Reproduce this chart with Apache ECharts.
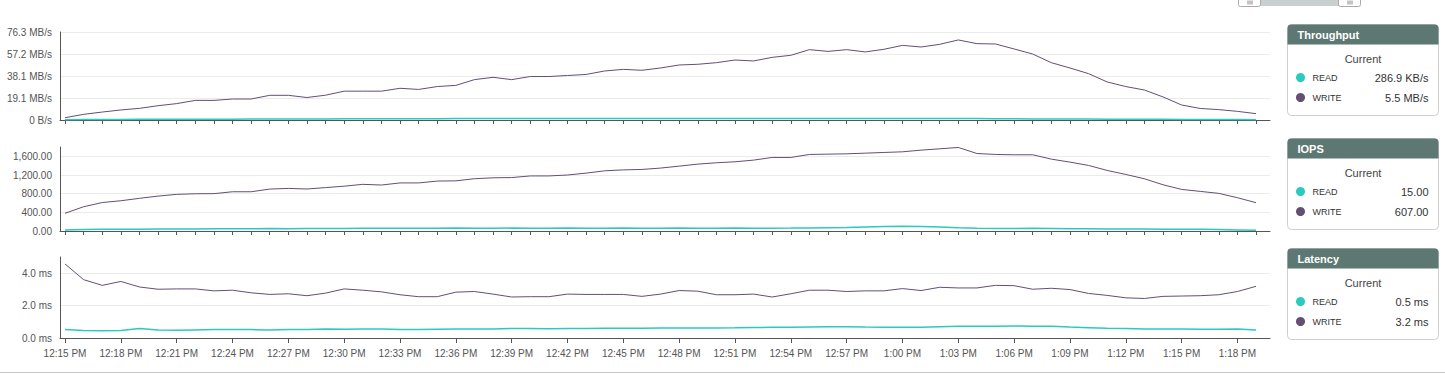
<!DOCTYPE html>
<html>
<head>
<meta charset="utf-8">
<script src="https://cdn.jsdelivr.net/npm/echarts@6/dist/echarts.min.js"></script>
<style>
html,body{margin:0;padding:0;background:#fff;}
#chart{width:1445px;height:374px;}
</style>
</head>
<body>
<div id="chart"></div>
<script>
// ---- categories (one sample per minute) ----
const times = [
  '12:15 PM','12:16 PM','12:17 PM','12:18 PM','12:19 PM','12:20 PM','12:21 PM','12:22 PM','12:23 PM','12:24 PM',
  '12:25 PM','12:26 PM','12:27 PM','12:28 PM','12:29 PM','12:30 PM','12:31 PM','12:32 PM','12:33 PM','12:34 PM',
  '12:35 PM','12:36 PM','12:37 PM','12:38 PM','12:39 PM','12:40 PM','12:41 PM','12:42 PM','12:43 PM','12:44 PM',
  '12:45 PM','12:46 PM','12:47 PM','12:48 PM','12:49 PM','12:50 PM','12:51 PM','12:52 PM','12:53 PM','12:54 PM',
  '12:55 PM','12:56 PM','12:57 PM','12:58 PM','12:59 PM','1:00 PM','1:01 PM','1:02 PM','1:03 PM','1:04 PM',
  '1:05 PM','1:06 PM','1:07 PM','1:08 PM','1:09 PM','1:10 PM','1:11 PM','1:12 PM','1:13 PM','1:14 PM',
  '1:15 PM','1:16 PM','1:17 PM','1:18 PM','1:19 PM'
];

// ---- Throughput (MB/s) ----
const throughputRead = [
  0.3,0.4,0.5,0.5,0.6,0.6,0.6,0.7,0.7,0.7,
  0.8,0.8,0.8,0.9,0.9,1.0,1.0,1.0,1.1,1.1,
  1.1,1.2,1.2,1.2,1.3,1.3,1.3,1.3,1.3,1.3,
  1.3,1.3,1.3,1.3,1.3,1.3,1.3,1.3,1.3,1.3,
  1.3,1.3,1.3,1.3,1.3,1.3,1.3,1.3,1.3,1.2,
  1.1,1.0,0.9,0.9,0.8,0.8,0.7,0.7,0.6,0.6,
  0.5,0.5,0.4,0.4,0.2869
];
const throughputWrite = [
  2.0,4.9,6.9,8.7,10.1,12.4,14.2,17.0,17.0,18.2,
  18.2,21.4,21.4,19.5,21.5,25.0,25.0,25.0,27.5,26.5,
  29.0,30.0,35.0,37.0,35.0,37.7,37.7,38.6,39.5,42.5,
  43.9,43.1,45.1,47.7,48.3,49.7,52.0,51.2,54.3,56.1,
  61.0,59.5,61.0,59.0,61.3,64.7,63.3,65.6,69.4,66.2,
  65.9,61.6,57.2,49.7,45.1,40.2,33.0,29.0,26.0,20.0,
  13.0,10.0,9.0,7.5,5.5
];
// ---- IOPS ----
const iopsRead = [
  20,30,35,38,40,42,45,45,48,50,
  50,52,50,55,55,55,58,60,60,58,
  60,62,60,60,62,60,60,62,60,60,
  62,60,60,62,60,60,62,60,60,62,
  65,70,75,85,95,100,98,85,70,60,
  55,55,58,55,50,48,45,45,42,40,
  38,35,30,22,15
];
const iopsWrite = [
  380,520,610,648,700,748,785,798,800,841,
  841,898,913,900,930,960,1000,985,1030,1030,
  1070,1075,1120,1140,1145,1180,1180,1200,1240,1290,
  1310,1319,1348,1390,1433,1462,1483,1519,1576,1576,
  1640,1647,1654,1668,1683,1697,1733,1761,1790,1661,
  1640,1633,1633,1540,1476,1405,1298,1212,1119,991,
  891,849,806,713,607
];
// ---- Latency (ms) ----
const latencyRead = [
  0.53,0.46,0.44,0.47,0.58,0.49,0.48,0.50,0.52,0.53,
  0.52,0.50,0.52,0.53,0.55,0.54,0.56,0.55,0.53,0.53,
  0.54,0.55,0.55,0.56,0.59,0.58,0.57,0.59,0.59,0.60,
  0.60,0.60,0.61,0.62,0.62,0.62,0.63,0.65,0.66,0.66,
  0.68,0.70,0.70,0.68,0.67,0.67,0.67,0.70,0.72,0.73,
  0.73,0.74,0.73,0.73,0.68,0.64,0.60,0.58,0.56,0.55,
  0.55,0.54,0.54,0.55,0.50
];
const latencyWrite = [
  4.57,3.60,3.25,3.49,3.15,3.01,3.03,3.03,2.91,2.95,
  2.79,2.69,2.73,2.61,2.77,3.03,2.95,2.85,2.67,2.55,
  2.55,2.83,2.87,2.71,2.53,2.55,2.55,2.71,2.69,2.69,
  2.69,2.57,2.71,2.93,2.89,2.67,2.67,2.71,2.53,2.73,
  2.95,2.95,2.87,2.91,2.91,3.05,2.93,3.13,3.09,3.09,
  3.25,3.23,3.01,3.07,2.99,2.75,2.63,2.48,2.44,2.57,
  2.59,2.61,2.67,2.87,3.19
];

// ---- tick labels ----
const throughputTicks = ['0 B/s','19.1 MB/s','38.1 MB/s','57.2 MB/s','76.3 MB/s'];
const iopsTicks = ['0.00','400.00','800.00','1,200.00','1,600.00'];
const latencyTicks = ['0.0 ms','2.0 ms','4.0 ms'];
const panelTitles = ['Throughput','IOPS','Latency'];
const seriesNames = ['READ','WRITE'];

const READ_COLOR = '#2cc9be';
const WRITE_COLOR = '#634f72';
const FONT = 'Liberation Sans, Arial, sans-serif';

const minuteIdx = times.map((t, i) => i);
const labelIdx = minuteIdx.filter(i => i % 3 === 0);
const pairs = arr => arr.map((v, i) => [i, v]);

function xAxisCfg(gridIndex, withLabels) {
  return {
    type: 'value', gridIndex, min: -0.27, max: 64.75,
    axisLine: { show: true, onZero: false, lineStyle: { color: '#555', width: 1 } },
    axisTick: { show: true, length: withLabels ? 5 : 4, lineStyle: { color: '#555' },
      customValues: withLabels ? labelIdx : minuteIdx },
    axisLabel: { show: withLabels, customValues: labelIdx, color: '#555', fontSize: 10,
      fontFamily: FONT, margin: 10, formatter: v => times[Math.round(v)] || '' },
    splitLine: { show: false }
  };
}
function yAxisCfg(gridIndex, max, interval, ticks, hideMax) {
  return {
    type: 'value', gridIndex, min: 0, max, interval,
    axisLine: { show: true, onZero: false, lineStyle: { color: '#555', width: 1 } },
    axisTick: { show: false },
    axisLabel: { color: '#555', fontSize: 10, fontFamily: FONT, margin: 8,
      showMaxLabel: !hideMax,
      formatter: v => { const i = Math.round(v / interval); return Math.abs(v - i * interval) < 1e-6 ? (ticks[i] || '') : ''; } },
    splitLine: { show: true, showMaxLine: !hideMax, lineStyle: { color: '#ebebeb', width: 1 } }
  };
}
function line(name, data, color, idx, width) {
  return {
    name, type: 'line', xAxisIndex: idx, yAxisIndex: idx, data: pairs(data),
    showSymbol: false, symbol: 'none', smooth: false,
    lineStyle: { color, width }, itemStyle: { color }, z: name === 'READ' ? 3 : 2,
    silent: true
  };
}

const fmtThroughput = v => v < 1 ? (v * 1000).toFixed(1) + ' KB/s' : v.toFixed(1) + ' MB/s';
const fmtIops = v => v.toLocaleString('en-US', { minimumFractionDigits: 2, maximumFractionDigits: 2 });
const fmtLatency = v => v.toFixed(1) + ' ms';

const panelTops = [24, 138, 248];
const panelValues = [
  [fmtThroughput(throughputRead[throughputRead.length - 1]), fmtThroughput(throughputWrite[throughputWrite.length - 1])],
  [fmtIops(iopsRead[iopsRead.length - 1]), fmtIops(iopsWrite[iopsWrite.length - 1])],
  [fmtLatency(latencyRead[latencyRead.length - 1]), fmtLatency(latencyWrite[latencyWrite.length - 1])]
];

function panel(i) {
  const T = panelTops[i], L = 1287, W = 151, H = 91;
  return {
    type: 'group', left: L, top: T,
    children: [
      { type: 'rect', shape: { x: 0, y: 0, width: W, height: H, r: 4 },
        style: { fill: '#fff', stroke: '#cfcfcf', lineWidth: 1 } },
      { type: 'rect', shape: { x: 0, y: 0, width: W, height: 20, r: [4, 4, 0, 0] },
        style: { fill: '#5d7872' } },
      { type: 'text', x: 10, y: 10, style: { text: panelTitles[i], fill: '#fff',
        font: 'bold 11px ' + FONT, textVerticalAlign: 'middle', verticalAlign: 'middle' } },
      { type: 'text', x: W / 2, y: 34, style: { text: 'Current', fill: '#444',
        font: '11px ' + FONT, align: 'center', verticalAlign: 'middle' } },
      { type: 'circle', shape: { cx: 13, cy: 53, r: 4.5 }, style: { fill: READ_COLOR } },
      { type: 'text', x: 25, y: 53, style: { text: seriesNames[0], fill: '#333',
        font: '9px ' + FONT, verticalAlign: 'middle' } },
      { type: 'text', x: 141, y: 53, style: { text: panelValues[i][0], fill: '#333',
        font: '11px ' + FONT, align: 'right', verticalAlign: 'middle' } },
      { type: 'circle', shape: { cx: 13, cy: 73, r: 4.5 }, style: { fill: WRITE_COLOR } },
      { type: 'text', x: 25, y: 73, style: { text: seriesNames[1], fill: '#333',
        font: '9px ' + FONT, verticalAlign: 'middle' } },
      { type: 'text', x: 141, y: 73, style: { text: panelValues[i][1], fill: '#333',
        font: '11px ' + FONT, align: 'right', verticalAlign: 'middle' } }
    ]
  };
}

function handle(x) {
  return {
    type: 'group', left: x, top: -4,
    children: [
      { type: 'rect', shape: { x: 0, y: 0, width: 22, height: 10, r: 2 },
        style: { fill: '#fff', stroke: '#aaa', lineWidth: 1 } },
      { type: 'line', shape: { x1: 9.5, y1: 4, x2: 9.5, y2: 8 }, style: { stroke: '#888', lineWidth: 1 } },
      { type: 'line', shape: { x1: 11.5, y1: 4, x2: 11.5, y2: 8 }, style: { stroke: '#888', lineWidth: 1 } },
      { type: 'line', shape: { x1: 13.5, y1: 4, x2: 13.5, y2: 8 }, style: { stroke: '#888', lineWidth: 1 } }
    ]
  };
}

const chart = echarts.init(document.getElementById('chart'), null, { renderer: 'svg', width: 1445, height: 374 });
chart.setOption({
  animation: false,
  backgroundColor: '#fff',
  grid: [
    { left: 60, right: 175, top: 32, height: 88 },
    { left: 60, right: 175, top: 147, height: 84 },
    { left: 60, right: 175, top: 257, height: 81 }
  ],
  xAxis: [xAxisCfg(0, false), xAxisCfg(1, false), xAxisCfg(2, true)],
  yAxis: [
    yAxisCfg(0, 76.3, 19.075, throughputTicks, false),
    yAxisCfg(1, 1800, 400, iopsTicks, true),
    yAxisCfg(2, 5, 2, latencyTicks, true)
  ],
  series: [
    line('WRITE', throughputWrite, WRITE_COLOR, 0, 1),
    line('READ', throughputRead, READ_COLOR, 0, 1.5),
    line('WRITE', iopsWrite, WRITE_COLOR, 1, 1),
    line('READ', iopsRead, READ_COLOR, 1, 1.5),
    line('WRITE', latencyWrite, WRITE_COLOR, 2, 1),
    line('READ', latencyRead, READ_COLOR, 2, 1.5)
  ],
  graphic: [
    { type: 'rect', left: 1260, top: -3, shape: { x: 0, y: 0, width: 80, height: 9 },
      style: { fill: '#c9cece' } },
    handle(1238), handle(1338),
    panel(0), panel(1), panel(2),
    { type: 'rect', left: 0, top: 372, shape: { x: 0, y: 0, width: 1445, height: 1 },
      style: { fill: '#c8c8c8' } }
  ]
});
</script>
</body>
</html>
